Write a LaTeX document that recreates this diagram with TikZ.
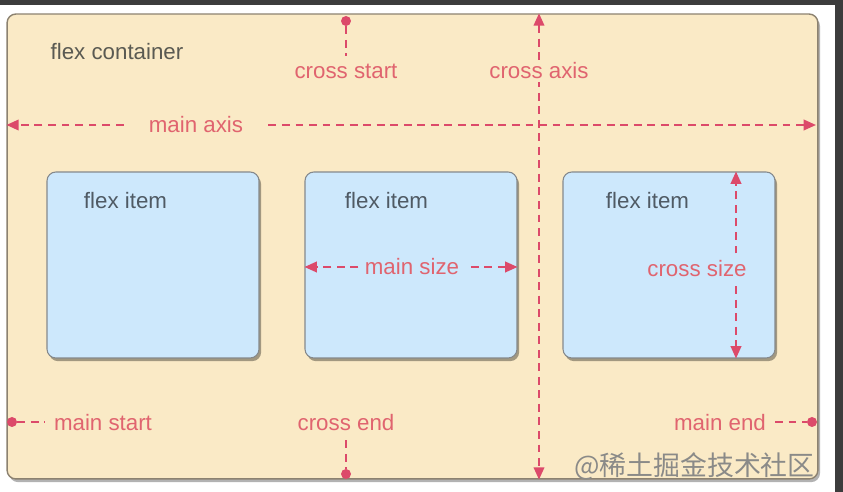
\documentclass[tikz,border=0pt]{standalone}
\usepackage{fontspec}
\setmainfont{Liberation Sans}
\newfontfamily\cjkfont{Noto Sans CJK SC}
\usetikzlibrary{arrows.meta, positioning, calc, shadows}
\definecolor{framedark}{HTML}{3C3C3C}
\definecolor{containerfill}{HTML}{FAEAC6}
\definecolor{containerline}{HTML}{8C8270}
\definecolor{itemfill}{HTML}{CDE8FC}
\definecolor{itemline}{HTML}{85898C}
\definecolor{axisred}{HTML}{DC4A6A}
\definecolor{labelred}{HTML}{E0646F}
\definecolor{greytext}{HTML}{5A5A52}
\definecolor{itemtext}{HTML}{4F5A64}
\definecolor{markgrey}{HTML}{8A8A88}

\begin{document}
\begin{tikzpicture}[
  x=0.02cm, y=-0.02cm,
  >={Triangle[length=7pt, width=6pt]},
  every node/.style={font=\fontsize{12.7}{15}\selectfont, inner sep=0pt},
]

\tikzset{
  container/.style={rectangle, rounded corners=5pt, draw=containerline, line width=0.8pt,
    fill=containerfill, minimum width=16.22cm, minimum height=9.3cm,
    drop shadow={shadow xshift=1.2pt, shadow yshift=-1.8pt, opacity=0.3, fill=black}},
  flexbox/.style={rectangle, rounded corners=5pt, draw=itemline, line width=0.6pt,
    fill=itemfill, minimum width=4.24cm, minimum height=3.72cm,
    drop shadow={shadow xshift=1.2pt, shadow yshift=-1.8pt, opacity=0.35, fill=black}},
  itemlabel/.style={text=itemtext},
  axisline/.style={draw=axisred, line width=1.1pt, dash pattern=on 4.5pt off 3.2pt},
  axislabel/.style={text=labelred},
  enddot/.style={circle, fill=axisred, minimum size=0.2cm},
}

% ---- frame ----
\useasboundingbox (0,0) rectangle (843,492);
\fill[white] (0,0) rectangle (843,492);
\fill[framedark] (0,0) rectangle (843,5);
\fill[framedark] (835,0) rectangle (843,492);

% ---- container and items ----
\node[container] (cont) at (412.5,246.5) {};
\node[text=greytext] (ctitle) at (117,52) {flex container};

\node[flexbox] (item1) at (153,265) {};
\node[flexbox] (item2) at (411,265) {};
\node[flexbox] (item3) at (669,265) {};
\foreach \i/\dx in {1/79,2/82,3/85}
  \node[itemlabel] (ilabel\i) at ($(item\i.north west)+(\dx,29)$) {flex item};

% ---- main axis ----
\node[axislabel, inner xsep=0.5cm] (maxis) at (196,125) {main axis};
\draw[axisline, ->] (maxis.west) -- (maxis.west -| cont.west);
\draw[axisline, ->, shorten >=1.5pt] (maxis.east) -- (maxis.east -| cont.east);

% ---- cross axis ----
\coordinate (cax) at (539,71);
\draw[axisline, <->] (cax |- cont.north) -- (cax |- cont.south);
\node[axislabel, fill=containerfill, inner sep=1.5pt] (caxis) at (cax) {cross axis};

% ---- cross start / cross end ----
\node[enddot] (csdot) at (346,21) {};
\node[axislabel] (cstart) at (346,71) {cross start};
\draw[axisline] (csdot) -- ([yshift=4pt]cstart.north);

\node[enddot] (cedot) at (346,474) {};
\node[axislabel] (cend) at (346,423) {cross end};
\draw[axisline] ([yshift=-5pt]cend.south) -- (cedot);

% ---- main start / main end ----
\node[enddot] (msdot) at (12,422) {};
\node[axislabel] (mstart) at (103,423) {main start};
\draw[axisline] (msdot) -- ([xshift=-5pt]mstart.west |- msdot);

\node[enddot] (medot) at (812,422) {};
\node[axislabel] (mend) at (720,423) {main end};
\draw[axisline] ([xshift=5pt]mend.east |- medot) -- (medot);

% ---- main size / cross size ----
\node[axislabel, inner xsep=3.5pt] (msize) at (412,267) {main size};
\draw[axisline, ->] (msize.west) -- (msize.west -| item2.west);
\draw[axisline, ->] ([xshift=3pt]msize.east) -- (msize.east -| item2.east);

\coordinate (csx) at (736,269);
\node[axislabel] (csize) at (697,269) {cross size};
\draw[axisline, ->] ([yshift=4pt]csize.north -| csx) -- (item3.north -| csx);
\draw[axisline, ->] ([yshift=-5pt]csize.south -| csx) -- (item3.south -| csx);

% ---- watermark ----
\node[text=markgrey, font=\cjkfont\fontsize{15.3}{18}\selectfont, anchor=east] (mark) at (815,466) {@稀土掘金技术社区};

\end{tikzpicture}
\end{document}
